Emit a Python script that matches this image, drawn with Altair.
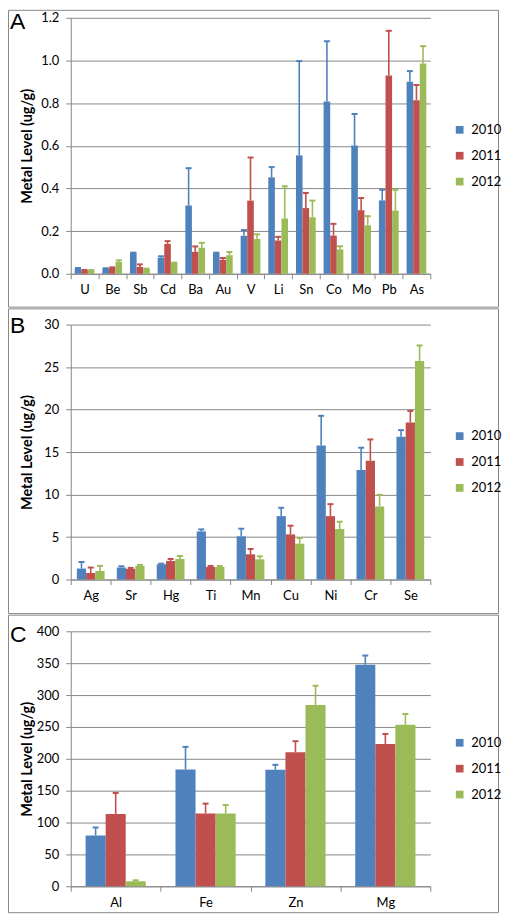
import altair as alt
import pandas as pd

years = ["2010", "2011", "2012"]
colors = ["#4F81BD", "#C0504D", "#9BBB59"]

# Panel A
a_metals = ["U", "Be", "Sb", "Cd", "Ba", "Au", "V", "Li", "Sn", "Co", "Mo", "Pb", "As"]
a_2010 = [0.023, 0.023, 0.097, 0.075, 0.320, 0.097, 0.178, 0.452, 0.555, 0.807, 0.601, 0.344, 0.900]
a_2011 = [0.016, 0.027, 0.032, 0.140, 0.103, 0.065, 0.343, 0.156, 0.308, 0.179, 0.298, 0.929, 0.813]
a_2012 = [0.015, 0.055, 0.022, 0.051, 0.122, 0.087, 0.163, 0.259, 0.265, 0.114, 0.227, 0.296, 0.986]
a_2010_err = [0.004, 0.003, 0.002, 0.007, 0.175, 0.002, 0.027, 0.048, 0.442, 0.283, 0.148, 0.050, 0.050]
a_2011_err = [0.002, 0.003, 0.012, 0.013, 0.025, 0.009, 0.202, 0.017, 0.071, 0.055, 0.057, 0.210, 0.072]
a_2012_err = [0.002, 0.008, 0.002, 0.001, 0.023, 0.015, 0.022, 0.151, 0.078, 0.015, 0.043, 0.098, 0.081]

# Panel B
b_metals = ["Ag", "Sr", "Hg", "Ti", "Mn", "Cu", "Ni", "Cr", "Se"]
b_2010 = [1.29, 1.41, 1.80, 5.66, 5.08, 7.46, 15.78, 12.89, 16.80]
b_2011 = [0.77, 1.25, 2.19, 1.48, 2.97, 5.31, 7.46, 13.98, 18.48]
b_2012 = [1.00, 1.60, 2.42, 1.48, 2.38, 4.22, 5.94, 8.59, 25.70]
b_2010_err = [0.77, 0.15, 0.07, 0.24, 0.90, 0.98, 3.48, 2.62, 0.78]
b_2011_err = [0.64, 0.12, 0.23, 0.12, 0.62, 1.02, 1.41, 2.50, 1.36]
b_2012_err = [0.60, 0.12, 0.35, 0.12, 0.35, 0.66, 0.86, 1.37, 1.84]

# Panel C
c_metals = ["Al", "Fe", "Zn", "Mg"]
c_2010 = [79.7, 183.3, 182.8, 347.4]
c_2011 = [113.5, 114.0, 210.4, 223.4]
c_2012 = [7.8, 114.0, 284.4, 253.6]
c_2010_err = [12.5, 35.4, 7.8, 14.6]
c_2011_err = [32.9, 15.7, 17.2, 15.6]
c_2012_err = [1.6, 13.6, 30.2, 16.7]

y_title = "Metal Level (ug/g)"
GRID = "#878787"
FONT = "Lato"
PLOT_LEFT = 71
W = 361


def make_df(metals, means, errs):
    rows = []
    for yr, m_list, e_list in zip(years, means, errs):
        for metal, m, e in zip(metals, m_list, e_list):
            rows.append({"metal": metal, "year": yr, "value": m, "upper": m + e})
    return pd.DataFrame(rows)


def panel(letter, metals, means, errs, ymax, ystep, fmt, H, frame_y, letter_y, legend_y, pad_outer):
    df = make_df(metals, means, errs)
    base = alt.Chart(df)
    x_enc = alt.X("metal:N", sort=metals, title=None,
                  scale=alt.Scale(domain=metals, paddingInner=0, paddingOuter=0),
                  axis=alt.Axis(tickBand="extent", labelAngle=0, labelFont=FONT,
                                labelFontSize=13, labelColor="black",
                                domainColor=GRID, tickColor=GRID, tickSize=5,
                                labelPadding=5, grid=False))
    xo_enc = alt.XOffset("year:N", sort=years,
                         scale=alt.Scale(domain=years, paddingInner=0, paddingOuter=pad_outer))
    ticks = [round(i * ystep, 6) for i in range(int(round(ymax / ystep)) + 1)]
    y_axis = alt.Axis(values=ticks, format=fmt, grid=True, gridColor=GRID,
                      domainColor=GRID, tickColor=GRID, tickSize=5,
                      labelFont=FONT, labelFontSize=13, labelColor="black",
                      labelPadding=7, labelOverlap=False,
                      title=y_title, titleFont=FONT,
                      titleFontSize=14.5, titleFontWeight="bold", titleColor="black",
                      titleAngle=270, titleAlign="center", titleBaseline="middle",
                      titleX=28 - PLOT_LEFT, titleY=H / 2)
    y_scale = alt.Scale(domain=[0, ymax], nice=False)
    color = alt.Color("year:N", sort=years,
                      scale=alt.Scale(domain=years, range=colors),
                      legend=alt.Legend(title=None, orient="none",
                                        legendX=455 - PLOT_LEFT, legendY=legend_y,
                                        symbolType="square", symbolSize=60,
                                        symbolStrokeWidth=0,
                                        labelFont=FONT, labelFontSize=13,
                                        labelColor="black", labelOffset=5,
                                        rowPadding=12, padding=0))
    bars = base.mark_bar().encode(
        x=x_enc, xOffset=xo_enc,
        y=alt.Y("value:Q", scale=y_scale, axis=y_axis, title=y_title),
        color=color)
    rules = base.mark_rule(strokeWidth=1.6, opacity=1).encode(
        x=x_enc, xOffset=xo_enc,
        y=alt.Y("value:Q", scale=y_scale, axis=y_axis, title=y_title),
        y2="upper:Q", color=color)
    caps = base.mark_tick(orient="horizontal", size=6, thickness=2, opacity=1).encode(
        x=x_enc, xOffset=xo_enc,
        y=alt.Y("upper:Q", scale=y_scale, axis=y_axis, title=y_title), color=color)
    box = alt.Chart(pd.DataFrame({"f": [0]})).mark_rect(
        fillOpacity=0, stroke=GRID, strokeWidth=1).encode(
        x=alt.value(-62.5), x2=alt.value(429.5),
        y=alt.value(frame_y[0]), y2=alt.value(frame_y[1]))
    lab = alt.Chart(pd.DataFrame({"t": [letter]})).mark_text(
        font="Liberation Sans", fontSize=23, align="left", baseline="top",
        color="black").encode(
        text="t:N", x=alt.value(10 - PLOT_LEFT), y=alt.value(letter_y))
    return alt.layer(box, bars, rules, caps, lab).properties(width=W, height=H)


pA = panel("A", a_metals, [a_2010, a_2011, a_2012], [a_2010_err, a_2011_err, a_2012_err],
           1.2, 0.2, ".1f", 257, (-7.5, 290.5), -7.2, 106, 0.6)
pB = panel("B", b_metals, [b_2010, b_2011, b_2012], [b_2010_err, b_2011_err, b_2012_err],
           30, 5, "d", 256, (-15.8, 290.2), -9.3, 105.5, 0.66)
pC = panel("C", c_metals, [c_2010, c_2011, c_2012], [c_2010_err, c_2011_err, c_2012_err],
           400, 50, "d", 256, (-16.2, 282.5), -7.4, 105.4, 0.74)

chart = alt.vconcat(pA, pB, pC, spacing=0).resolve_scale(
    x="independent", y="independent", color="independent", xOffset="independent"
).resolve_legend(color="independent").properties(
    padding=0
).configure(background="white").configure_view(stroke=None)

chart.save("out.html", embed_options={"renderer": "svg", "actions": False})
